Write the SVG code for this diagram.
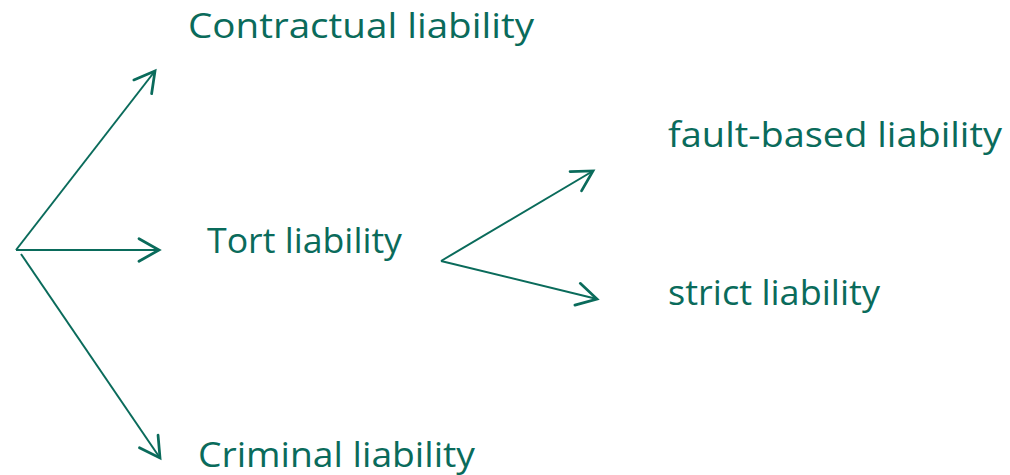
<svg xmlns="http://www.w3.org/2000/svg" width="1010" height="475" viewBox="0 0 1010 475">
  <style>
    .label { font-family: "Open Sans", "Liberation Sans", sans-serif; font-size: 34px; fill: #0a6b5b; }
    .link { stroke: #0a6b5b; stroke-width: 2; fill: none; marker-end: url(#chevron); }
  </style>
  <defs>
    <marker id="chevron" markerUnits="userSpaceOnUse" markerWidth="30" markerHeight="30" viewBox="-20 -12 24 24" refX="0" refY="0" orient="auto">
      <path d="M-16,-9 L0,0 L-16,9" fill="none" stroke="#0a6b5b" stroke-width="2.2" stroke-linecap="round" stroke-linejoin="miter"/>
    </marker>
  </defs>
  <rect width="1010" height="475" fill="#ffffff"/>

  <g id="connectors">
    <line class="link" x1="16" y1="250" x2="155" y2="71"/>
    <line class="link" x1="16" y1="250" x2="159" y2="250"/>
    <line class="link" x1="21" y1="254" x2="160" y2="458"/>
    <line class="link" x1="441" y1="261" x2="593" y2="171"/>
    <line class="link" x1="441" y1="261" x2="597" y2="299"/>
  </g>

  <g id="contractual">
    <text class="label" x="188" y="38" textLength="346" lengthAdjust="spacingAndGlyphs">Contractual liability</text>
  </g>
  <g id="tort">
    <text class="label" x="207" y="253" textLength="195" lengthAdjust="spacingAndGlyphs">Tort liability</text>
  </g>
  <g id="criminal">
    <text class="label" x="198" y="467" textLength="277" lengthAdjust="spacingAndGlyphs">Criminal liability</text>
  </g>
  <g id="fault-based">
    <text class="label" x="668" y="147" textLength="334" lengthAdjust="spacingAndGlyphs">fault-based liability</text>
  </g>
  <g id="strict">
    <text class="label" x="668" y="305" textLength="212" lengthAdjust="spacingAndGlyphs">strict liability</text>
  </g>
</svg>
